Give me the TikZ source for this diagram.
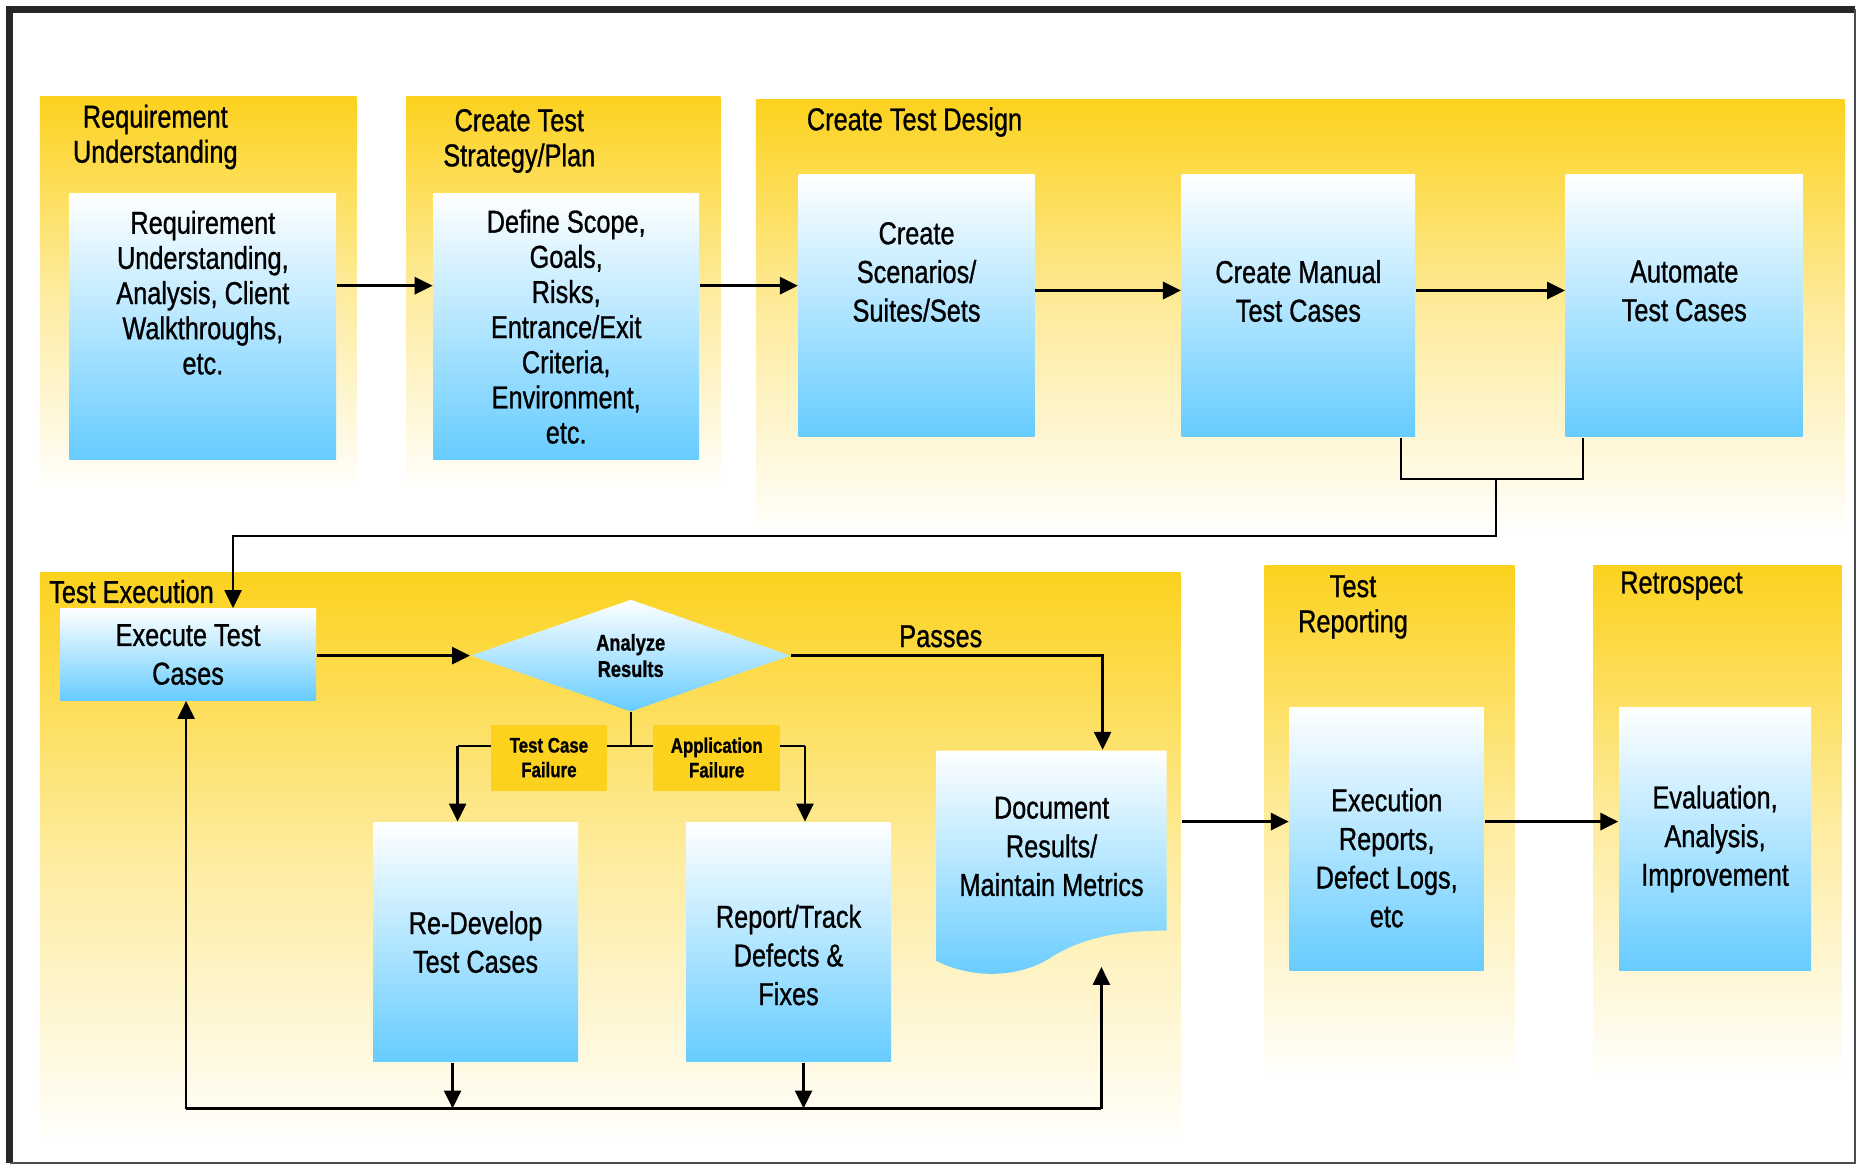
\documentclass[tikz,border=0pt]{standalone}
\usepackage{fontspec}
\setmainfont{Liberation Sans}[FakeStretch=0.8, FakeBold=0.9]
\usepackage{tikz}
\usetikzlibrary{shapes.geometric, arrows.meta, positioning, calc}
\definecolor{panelyel}{HTML}{FCD21E}
\definecolor{boxblue}{HTML}{66CCFF}
\definecolor{paleend}{HTML}{FFFEFB}

\begin{document}
\begin{tikzpicture}[
    panel/.style = {rectangle, anchor=north west, inner sep=0pt,
                    top color=panelyel, bottom color=paleend, middle color=panelyel!42!paleend},
    inbox/.style = {rectangle, anchor=north west, inner sep=0pt,
                    top color=white, bottom color=boxblue},
    txt/.style   = {align=center, inner sep=1pt, font=\fontsize{9}{11}\selectfont},
    tight/.style = {align=center, inner sep=1pt, font=\fontsize{9}{10}\selectfont},
    ttl/.style   = {align=center, inner sep=1pt, font=\fontsize{9}{10}\selectfont},
    tag/.style   = {rectangle, fill=panelyel, inner sep=0pt, align=center,
                    minimum height=0.66cm, font=\fontsize{6}{7}\selectfont\bfseries},
    dec/.style   = {diamond, inner sep=0pt, minimum width=3.2cm, minimum height=1.03cm,
                    top color=white, bottom color=boxblue, align=center,
                    font=\fontsize{6.5}{7.5}\selectfont\bfseries},
    arr/.style   = {-{Triangle[length=1.8mm,width=1.7mm]}, line width=0.9pt},
    conn/.style  = {line width=0.6pt},
  ]
    \useasboundingbox (0,0) rectangle (18.59,-11.67);

    % ── frame ────────────────────────────────────────────────
    \draw[line width=2pt, black!85] (0.095,-11.63) -- (0.095,-0.095) -- (18.55,-0.095);
    \draw[line width=0.6pt, black!70] (0.095,-11.63) -- (18.55,-11.63) -- (18.55,-0.095);

    % ── panels ───────────────────────────────────────────────
    \node[panel, minimum width=3.166cm, minimum height=3.9cm]   (preq)   at (0.391,-0.960) {};
    \node[panel, minimum width=3.142cm, minimum height=3.9cm]   (pstrat) at (4.055,-0.960) {};
    \node[panel, minimum width=10.884cm, minimum height=4.3cm]  (pdes)   at (7.552,-0.984) {};
    \node[panel, minimum width=11.406cm, minimum height=5.67cm] (pexec)  at (0.391,-5.715) {};
    \node[panel, minimum width=2.501cm, minimum height=5.1cm]   (prep)   at (12.639,-5.643) {};
    \node[panel, minimum width=2.489cm, minimum height=5.1cm]   (pretro) at (15.923,-5.643) {};

    \node[ttl] (treq)   at (1.553,-1.37) {Requirement\\Understanding};
    \node[ttl] (tstrat) at (5.193,-1.41) {Create Test\\Strategy/Plan};
    \node[ttl, anchor=west] (tdes)  at (8.027,-1.221) {Create Test Design};
    \node[ttl, anchor=west] (texec) at (0.45,-5.916) {Test Execution};
    \node[ttl] (trep)   at (13.53,-6.07) {Test\\Reporting};
    \node[ttl, anchor=west] (tretro) at (16.16,-5.857) {Retrospect};

    % ── top row boxes ────────────────────────────────────────
    \node[inbox, minimum width=2.667cm, minimum height=2.655cm] (req)   at (0.688,-1.933) {};
    \node[inbox, minimum width=2.656cm, minimum height=2.655cm] (strat) at (4.327,-1.933) {};
    \node[inbox, minimum width=2.359cm, minimum height=2.62cm]  (scen)  at (7.979,-1.743) {};
    \node[inbox, minimum width=2.335cm, minimum height=2.62cm]  (man)   at (11.809,-1.743) {};
    \node[inbox, minimum width=2.371cm, minimum height=2.62cm]  (auto)  at (15.650,-1.743) {};

    \node[tight] (reqtxt)   at ([yshift=3.4mm]req.center)   {Requirement\\Understanding,\\Analysis, Client\\Walkthroughs,\\etc.};
    \node[tight] (strattxt) at (strat.center)                {Define Scope,\\Goals,\\Risks,\\Entrance/Exit\\Criteria,\\Environment,\\etc.};
    \node[txt]   (scentxt)  at ([yshift=3.4mm]scen.center)  {Create\\Scenarios/\\Suites/Sets};
    \node[txt]   (mantxt)   at ([yshift=1.5mm]man.center)   {Create Manual\\Test Cases};
    \node[txt]   (autotxt)  at ([yshift=1.5mm]auto.center)  {Automate\\Test Cases};

    \coordinate (rowa) at (0,-2.857);
    \coordinate (rowb) at (0,-2.905);
    \draw[arr] (req.east |- rowa)   -- (strat.west |- rowa);
    \draw[arr] (strat.east |- rowa) -- (scen.west |- rowa);
    \draw[arr] (scen.east |- rowb)  -- (man.west |- rowb);
    \draw[arr] (man.east |- rowb)   -- (auto.west |- rowb);

    % ── bottom row boxes ─────────────────────────────────────
    \node[inbox, minimum width=2.561cm, minimum height=0.913cm] (exec)    at (0.593,-6.082) {};
    \node[inbox, minimum width=2.051cm, minimum height=2.395cm] (redev)   at (3.723,-8.216) {};
    \node[inbox, minimum width=2.051cm, minimum height=2.395cm] (report)  at (6.853,-8.216) {};
    \node[inbox, minimum width=1.944cm, minimum height=2.632cm] (execrep) at (12.888,-7.066) {};
    \node[inbox, minimum width=1.921cm, minimum height=2.632cm] (eval)    at (16.183,-7.066) {};

    \node[txt] (exectxt)    at (exec.center)                    {Execute Test\\Cases};
    \node[txt] (redevtxt)   at (redev.center)                   {Re-Develop\\Test Cases};
    \node[txt] (reporttxt)  at ([yshift=-1.3mm]report.center)   {Report/Track\\Defects \&\\Fixes};
    \node[txt] (execreptxt) at ([yshift=-1.9mm]execrep.center)  {Execution\\Reports,\\Defect Logs,\\etc};
    \node[txt] (evaltxt)    at (eval.center)                    {Evaluation,\\Analysis,\\Improvement};

    \node[dec] (ana) at (6.307,-6.556) {Analyze\\Results};

    % document shape
    \shade[top color=white, bottom color=boxblue]
      (9.366,-7.505) -- (11.666,-7.505) -- (11.666,-9.307)
      .. controls (11.1,-9.30) and (10.75,-9.42) .. (10.5,-9.58)
      .. controls (10.2,-9.77) and (9.75,-9.80) .. (9.366,-9.611) -- cycle;
    \node[txt, minimum width=2.6cm, minimum height=1.92cm] (doc) at (10.516,-8.465)
      {Document\\Results/\\Maintain Metrics};
    \coordinate (docin) at (11.014,-9.669);

    % ── connectors ───────────────────────────────────────────
    \coordinate (joint) at (14.962,-4.79);
    \draw[conn] ([xshift=-1.5mm]man.south east) |- (joint) -| ([xshift=1.8mm]auto.south west);
    \draw[arr, line width=0.6pt] (joint) -- ++(0,-0.57) -| ([xshift=4.5mm]exec.north);

    \draw[arr] (exec.east |- ana.west) -- (ana.west);
    \draw[arr, line width=0.7pt] (ana.east) -| ([xshift=5.1mm]doc.north)
      node[pos=0.24, above=1pt, txt] (pass) {Passes};

    \coordinate (brl) at (4.576,-7.457);
    \coordinate (brr) at (8.050,-7.457);
    \draw[conn] (ana.south) |- (brl);
    \draw[conn] (ana.south) |- (brr);
    \draw[arr, line width=0.7pt] (brl) -- (redev.north -| brl);
    \draw[arr, line width=0.7pt] (brr) -- (report.north -| brr);
    \node[tag, minimum width=1.162cm] (tcf) at (5.489,-7.576) {Test Case\\Failure};
    \node[tag, minimum width=1.268cm] (apf) at (7.167,-7.576) {Application\\Failure};

    \coordinate (loopl) at (1.861,-11.085);
    \coordinate (loopr) at (11.014,-11.085);
    \draw[conn] (loopl) -- (loopr);
    \draw[arr, line width=0.7pt] (loopl) -- (exec.south -| loopl);
    \draw[arr, line width=0.7pt] (loopr) -- (docin);
    \draw[arr, line width=0.7pt] ([xshift=-2.3mm]redev.south) -- ([xshift=-2.3mm]redev.south |- loopl);
    \draw[arr, line width=0.7pt] ([xshift=1.5mm]report.south) -- ([xshift=1.5mm]report.south |- loopl);

    \coordinate (rowc) at (0,-8.216);
    \draw[arr] (doc.east |- rowc) -- (execrep.west |- rowc);
    \draw[arr] (execrep.east |- rowc) -- (eval.west |- rowc);

  \end{tikzpicture}
\end{document}
